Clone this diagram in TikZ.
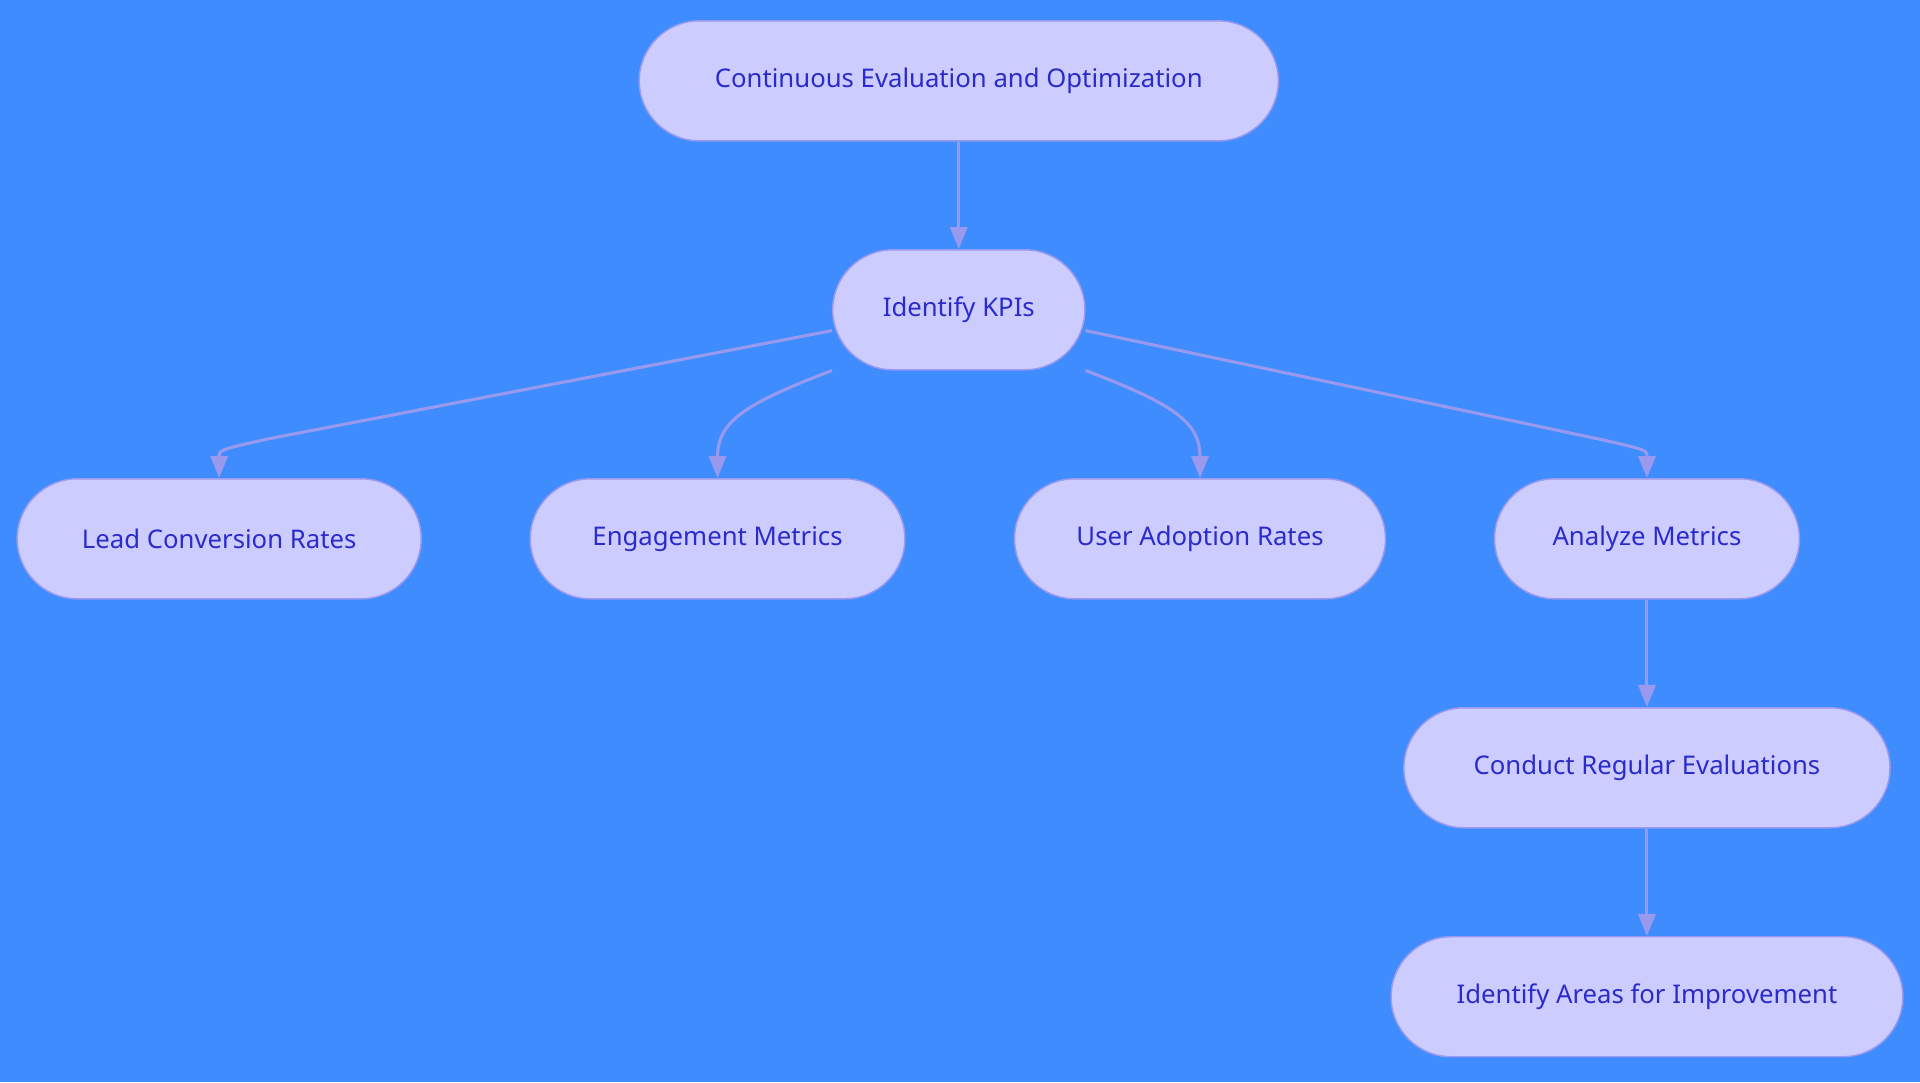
\documentclass[tikz,border=0pt]{standalone}
\usepackage{fontspec}
\setmainfont{Noto Sans}
\usetikzlibrary{arrows.meta,calc}
\definecolor{bg}{HTML}{3F8CFF}
\definecolor{nfill}{HTML}{CCCCFF}
\definecolor{nline}{HTML}{9999EE}
\definecolor{ntext}{HTML}{2B2BCC}
\begin{document}
\begin{tikzpicture}[x=1pt,y=-1pt,
  box/.style={draw=nline,fill=nfill,line width=1.2pt,rounded corners=49pt,minimum height=98pt,text=ntext,font=\fontsize{21}{24}\selectfont,inner sep=0pt},
  edge/.style={draw=nline,line width=2.5pt,-{Triangle[width=14pt,length=18pt]}}]
\fill[bg] (0,0) rectangle (1568,884);
\useasboundingbox (0,0) rectangle (1568,884);
\node[box,minimum width=522pt] (top) at (783,66) {Continuous Evaluation and Optimization};
\node[box,minimum width=206pt] (kpi) at (783,253) {Identify KPIs};
\node[box,minimum width=330pt] (lead) at (179,440) {Lead Conversion Rates};
\node[box,minimum width=306pt] (eng) at (586,440) {Engagement Metrics};
\node[box,minimum width=303pt] (user) at (980,440) {User Adoption Rates};
\node[box,minimum width=249pt] (ana) at (1345,440) {Analyze Metrics};
\node[box,minimum width=397pt] (cond) at (1345,627) {Conduct Regular Evaluations};
\node[box,minimum width=418pt] (area) at (1345,814) {Identify Areas for Improvement};
\draw[edge] (top) -- (kpi);
\draw[edge] ([yshift=-17pt]kpi.west) -- ($(lead.north)+(40,-32)$) .. controls ($(lead.north)+(0,-23)$) .. (lead.north);
\draw[edge] (kpi.south west) .. controls ($(eng.north)+(20,-60)$) and ($(eng.north)+(0,-45)$) .. (eng.north);
\draw[edge] (kpi.south east) .. controls ($(user.north)+(-20,-60)$) and ($(user.north)+(0,-45)$) .. (user.north);
\draw[edge] ([yshift=-17pt]kpi.east) -- ($(ana.north)+(-40,-32)$) .. controls ($(ana.north)+(0,-23)$) .. (ana.north);
\draw[edge] (ana) -- (cond);
\draw[edge] (cond) -- (area);
\end{tikzpicture}
\end{document}
